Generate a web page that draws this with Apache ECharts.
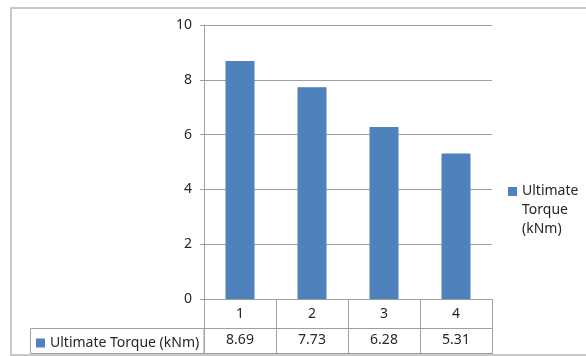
<!DOCTYPE html>
<html><head><meta charset="utf-8">
<script src="https://cdn.jsdelivr.net/npm/echarts@6/dist/echarts.min.js"></script>
<style>html,body{margin:0;padding:0;background:#fff}#c{width:586px;height:356px}</style>
</head><body><div id="c"></div>
<script>
const categories = ['1', '2', '3', '4'];
const torque = [8.69, 7.73, 6.28, 5.31];
const seriesName = 'Ultimate Torque (kNm)';
const yTicks = { min: 0, max: 10, interval: 2 };

const FONT = 'Noto Sans';
const TXT = '#262626';
const LINE = '#a0a0a0';

const chart = echarts.init(document.getElementById('c'), null, { renderer: 'canvas' });
chart.setOption({
  animation: false,
  textStyle: { fontFamily: FONT },
  grid: { left: 204, right: 94, top: 25, bottom: 57 },
  legend: [
    {
      data: [seriesName], orient: 'vertical', left: 503, top: 139,
      itemWidth: 9, itemHeight: 9, icon: 'rect',
      formatter: () => '\n\nUltimate\nTorque\n(kNm)',
      textStyle: { fontSize: 14, color: TXT, lineHeight: 19, fontFamily: FONT },
      selectedMode: false
    },
    {
      data: [seriesName], left: 31, top: 331,
      itemWidth: 9, itemHeight: 9, icon: 'rect',
      textStyle: { fontSize: 14, color: TXT, fontFamily: FONT },
      selectedMode: false
    }
  ],
  xAxis: [
    {
      type: 'category', data: categories, position: 'bottom',
      axisLine: { show: true, lineStyle: { color: LINE, width: 1 } },
      axisTick: { show: true, interval: 0, length: 55, lineStyle: { color: LINE } },
      axisLabel: { color: TXT, fontSize: 14, margin: 8, fontFamily: FONT }
    },
    {
      type: 'category', data: torque.map(String), position: 'bottom', offset: 29,
      axisLine: { show: true, lineStyle: { color: LINE, width: 1 } },
      axisTick: { show: false },
      axisLabel: { color: TXT, fontSize: 14, margin: 5, fontFamily: FONT }
    }
  ],
  yAxis: {
    type: 'value', min: yTicks.min, max: yTicks.max, interval: yTicks.interval,
    axisLine: { show: true, lineStyle: { color: LINE } },
    axisTick: { show: true, length: 4, lineStyle: { color: LINE } },
    axisLabel: { color: TXT, fontSize: 14, margin: 12, fontFamily: FONT },
    splitLine: { show: true, lineStyle: { color: LINE, width: 1 } }
  },
  series: [{
    name: seriesName, type: 'bar', data: torque, xAxisIndex: 0,
    barWidth: 29, itemStyle: { color: '#4f81bd' }
  }],
  graphic: [
    { type: 'rect', shape: { x: 11, y: 8, width: 620, height: 347 },
      style: { fill: 'none', stroke: '#c8c8c8', lineWidth: 2 }, silent: true },
    { type: 'rect', shape: { x: 30.5, y: 328.5, width: 173.5, height: 25 },
      style: { fill: 'none', stroke: LINE, lineWidth: 1 }, silent: true },
    { type: 'line', shape: { x1: 204, y1: 353.5, x2: 492, y2: 353.5 },
      style: { stroke: LINE, lineWidth: 1 }, silent: true }
  ]
});
</script></body></html>
